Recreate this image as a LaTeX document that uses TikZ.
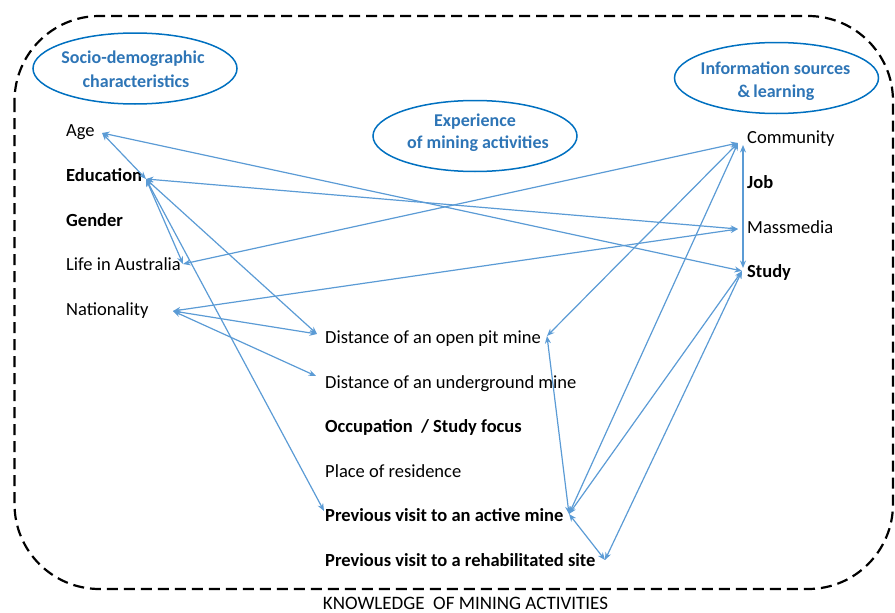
\documentclass[tikz,border=0pt]{standalone}
\usepackage{fontspec}
\setmainfont{Carlito}
\usetikzlibrary{arrows.meta,shapes.geometric}
\definecolor{hdrblue}{HTML}{2E75B6}
\definecolor{ellblue}{HTML}{0070C0}
\definecolor{arrblue}{HTML}{5B9BD5}
\begin{document}
\begin{tikzpicture}[x=1pt,y=-1pt,
  lbl/.style={anchor=base west,inner sep=0pt,font=\fontsize{18.5}{22}\selectfont,text=black},
  blbl/.style={lbl,font=\fontsize{18.5}{22}\selectfont\bfseries},
  hdrell/.style={draw=ellblue,line width=1.5pt,ellipse,minimum width=204pt,minimum height=71pt,inner sep=0pt},
  hdrtxt/.style={anchor=base,inner sep=0pt,font=\fontsize{18}{22}\selectfont\bfseries,text=hdrblue},
  link/.style={draw=arrblue,line width=1.2pt,{Stealth[length=7.5pt,width=6pt]}-{Stealth[length=7.5pt,width=6pt]}},
  border/.style={draw=black,line width=2.2pt,dash pattern=on 11pt off 6pt,rounded corners=85pt}]
\useasboundingbox (0,0) rectangle (895,613);

% outer dashed frame
\draw[border] (14.5,16) rectangle (893,589);

% header ellipses
\node[hdrell] (socio) at (135,68.5) {};
\node[hdrtxt] (sociot1) at (133,63) {Socio-demographic};
\node[hdrtxt] (sociot2) at (136,87) {characteristics};
\node[hdrell] (exper) at (475,136) {};
\node[hdrtxt] (expert1) at (475,126) {Experience};
\node[hdrtxt] (expert2) at (478,148) {of mining activities};
\node[hdrell] (info) at (776.5,78) {};
\node[hdrtxt] (infot1) at (775.5,74) {Information\ sources};
\node[hdrtxt] (infot2) at (776,97) {\&\,learning};

% left column
\node[lbl]  (age)    at (66,136) {Age};
\node[blbl] (edu)    at (66,181) {Education};
\node[blbl] (gender) at (66,226) {Gender};
\node[lbl]  (life)   at (66,270) {Life in Australia};
\node[lbl]  (nat)    at (66,315) {Nationality};

% right column
\node[lbl]  (comm)  at (747,143) {Community};
\node[blbl] (job)   at (747,188) {Job};
\node[lbl]  (mass)  at (747,233) {Massmedia};
\node[blbl] (study) at (747,277) {Study};

% middle column
\node[lbl]  (dopen)  at (325,343) {Distance of an open pit mine};
\node[lbl]  (dunder) at (325,388) {Distance of an underground mine};
\node[blbl] (occ)    at (325,432) {Occupation\ \ / Study focus};
\node[lbl]  (place)  at (325,477) {Place of residence};
\node[blbl] (pact)   at (325,521) {Previous visit to an active mine};
\node[blbl] (prehab) at (325,566) {Previous visit to a rehabilitated site};

% title
\node[anchor=base,inner sep=0pt,font=\fontsize{19}{22}\selectfont,text=black] (know) at (465.5,609.5) {KNOWLEDGE\ \ OF MINING ACTIVITIES};

% connector ports
\coordinate (pAge)    at (102,133);
\coordinate (pEdu)    at (146,179);
\coordinate (pLife)   at (183,264);
\coordinate (pNat)    at (173,311);
\coordinate (pOpenL)  at (317,334);
\coordinate (pUnderL) at (316,376);
\coordinate (pActL)   at (324,511);
\coordinate (pOpenR)  at (547,336);
\coordinate (pActR)   at (569,514);
\coordinate (pRehabR) at (605,560);
\coordinate (pComm)   at (738,143);
\coordinate (pMass)   at (738,229);
\coordinate (pStudy)  at (742,271);
\coordinate (pCommV)  at (743,145);
\coordinate (pStudyV) at (743,268);

% connectors
\draw[link] (pAge) -- (pEdu);
\draw[link] (pAge) -- (pStudy);
\draw[link] (pEdu) -- (pMass);
\draw[link] (pEdu) -- (pLife);
\draw[link] (pEdu) -- (pOpenL);
\draw[link] (pEdu) -- (pActL);
\draw[link] (pLife) -- (pComm);
\draw[link] (pNat) -- (pMass);
\draw[link] (pNat) -- (pOpenL);
\draw[link] (pNat) -- (pUnderL);
\draw[link] (pComm) -- (pOpenR);
\draw[link] (pCommV) -- (pStudyV);
\draw[link] (pComm) -- (pActR);
\draw[link] (pStudy) -- (pActR);
\draw[link] (pStudy) -- (pRehabR);
\draw[link] (pOpenR) -- (pActR);
\draw[link] (pActR) -- (pRehabR);
\end{tikzpicture}
\end{document}
